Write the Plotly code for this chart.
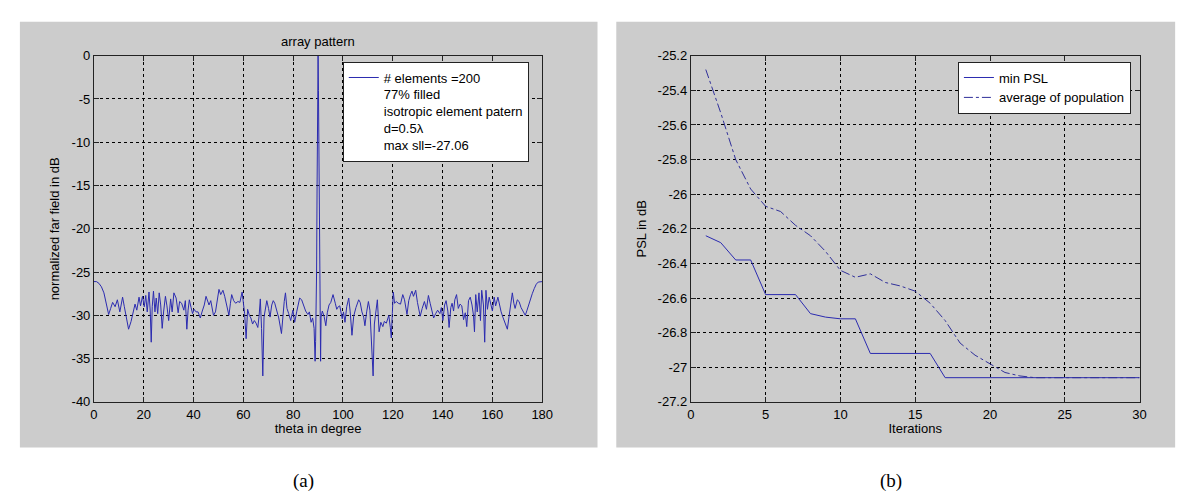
import plotly.graph_objects as go

W, H = 1189, 495

# ---------------- data: (a) array pattern ----------------
theta_deg = [
    0, 1, 2, 3, 4, 5, 5.9, 6.7, 7.5, 8.5, 9.4, 10.4, 11.5, 12.2, 13.2, 13.9, 14.9, 15.8,
    16.5, 17.2, 18.1, 18.7, 19.5, 20.2, 20.8, 21.4, 22.1, 22.6, 23.0, 23.4, 23.9, 24.5,
    25.0, 25.6, 26.2, 26.8, 27.4, 28.0, 28.7, 29.3, 30.0, 30.8, 31.4, 32.1, 33.0, 33.8,
    34.4, 35.2, 36.1, 36.7, 37.3, 37.8, 38.3, 39.0, 39.6, 40.2, 41.0, 41.8, 42.7, 43.5,
    44.3, 45.0, 45.6, 46.2, 46.9, 47.6, 48.0, 48.8, 49.5, 50.2, 50.9, 51.8, 52.5, 53.1,
    53.7, 54.2, 54.8, 55.3, 56.1, 56.9, 57.8, 58.6, 59.5, 60.0, 60.5, 61.1, 61.7, 62.4,
    63.0, 63.7, 64.4, 65.1, 65.8, 66.3, 66.8, 67.3, 67.8, 68.3, 68.9, 69.4, 70.1, 70.7,
    71.4, 72.0, 72.6, 73.4, 74.2, 75.3, 75.9, 76.4, 76.9, 77.5, 78.2, 79.0, 79.9, 80.6,
    81.4, 82.0, 82.6, 83.4, 84.2, 85.0, 85.9, 86.5, 87.2, 87.8, 88.4, 88.8, 89.0, 89.2,
    89.4, 89.6, 89.75, 89.85, 90.0, 90.15, 90.25, 90.4, 90.6, 90.8, 91.0, 91.2, 91.7,
    92.4, 93.1, 93.7, 94.4, 95.1, 96.0, 96.9, 97.5, 98.1, 98.7, 99.7, 100.2, 100.8,
    101.5, 102.3, 102.9, 103.6, 104.3, 105.2, 106.3, 106.9, 107.6, 108.3, 108.8, 109.5,
    110.2, 110.8, 111.6, 112.1, 112.6, 113.1, 113.8, 114.5, 115.2, 116.0, 116.6, 117.4,
    118.4, 119.0, 119.4, 119.8, 120.2, 120.7, 121.4, 122.2, 123.1, 124.0, 124.7, 125.7,
    126.4, 127.1, 127.7, 128.3, 129.2, 129.9, 130.5, 131.0, 131.8, 132.7, 133.5, 134.3,
    135.0, 135.7, 136.4, 137.2, 138.0, 138.9, 139.5, 140.1, 140.8, 141.4, 142.1, 142.6,
    143.3, 143.8, 144.4, 144.9, 145.6, 146.3, 147.0, 147.7, 148.4, 149.1, 149.7, 150.4,
    151.1, 151.8, 152.4, 152.8, 153.3, 153.9, 154.6, 155.2, 155.7, 156.4, 156.9, 157.4,
    158.0, 158.7, 159.3, 160.0, 160.7, 161.3, 162.2, 162.8, 163.5, 164.2, 165.1, 166.0,
    166.6, 167.3, 168.0, 168.6, 169.1, 170.0, 170.7, 171.5, 172.3, 173.2, 173.9, 174.5,
    175.2, 176.0, 176.8, 177.6, 178.4, 179.2, 180.0,
]
far_field_db = [
    -26.1, -26.1, -26.3, -26.7, -27.4, -28.6, -29.9, -29.2, -28.5, -29.0, -28.2, -29.6, -27.9, -29.0, -30.8, -31.6, -30.7, -29.5,
    -28.7, -29.4, -27.9, -28.9, -27.8, -29.0, -27.7, -29.6, -27.3, -29.5, -33.1, -29.0, -27.2, -29.6,
    -28.0, -29.8, -27.4, -28.8, -31.5, -29.5, -27.8, -28.9, -30.6, -28.1, -29.6, -27.4, -28.0, -29.7,
    -28.4, -28.6, -29.4, -28.3, -31.6, -29.4, -28.2, -29.1, -29.8, -29.3, -29.6, -29.6, -30.3, -29.5,
    -28.8, -27.8, -28.3, -28.8, -28.3, -29.3, -30.0, -29.6, -28.0, -27.0, -27.6, -27.1, -27.8, -28.7,
    -29.5, -30.0, -28.6, -27.6, -28.3, -28.6, -28.4, -28.5, -27.3, -28.5, -29.8, -32.7, -29.3, -30.0,
    -30.3, -31.0, -30.6, -30.9, -31.4, -30.1, -28.1, -31.5, -37.0, -30.2, -28.8, -28.3, -29.2, -30.2,
    -28.8, -28.3, -28.6, -29.4, -30.3, -32.1, -29.8, -28.4, -27.4, -29.2, -29.8, -30.6, -29.4, -30.8,
    -29.6, -28.6, -28.0, -28.2, -28.9, -29.5, -29.9, -29.6, -30.8, -30.3, -31.5, -35.3, -33.0, -29.5,
    -25.0, -15.0, -6.0, -6.2, 0.0, -4.0, -9.0, -16.0, -26.0, -30.5, -35.3, -30.2, -29.5,
    -30.1, -31.2, -29.7, -28.8, -28.5, -27.6, -28.6, -29.3, -29.0, -28.9, -30.4, -29.6, -30.8,
    -29.0, -28.0, -29.6, -32.3, -30.1, -29.1, -28.2, -28.5, -29.6, -30.2, -31.2, -29.6,
    -28.4, -29.4, -33.2, -37.0, -31.0, -29.9, -28.2, -31.9, -30.8, -31.3, -30.7, -30.9,
    -30.0, -31.4, -32.6, -29.8, -27.3, -28.6, -28.4, -28.6, -28.7, -27.6, -28.2, -29.9,
    -28.3, -27.6, -27.2, -27.8, -27.1, -28.5, -29.4, -30.1, -29.2, -28.4, -29.3, -27.7,
    -28.6, -29.3, -30.3, -29.8, -29.4, -29.8, -29.1, -30.6, -28.8, -28.3, -29.5, -31.4,
    -29.1, -28.6, -29.5, -28.2, -27.6, -29.2, -28.7, -28.9, -30.5, -29.7, -31.3, -28.3,
    -27.9, -28.8, -30.0, -31.9, -27.6, -29.6, -27.4, -30.6, -27.1, -28.8, -33.1, -27.1,
    -29.3, -27.9, -28.7, -29.5, -27.9, -28.9, -27.9, -28.9, -29.6, -30.2, -31.0, -31.6,
    -30.3, -28.7, -27.4, -28.6, -29.2, -28.2, -28.4, -29.1, -29.5, -30.0, -29.4, -28.8,
    -28.4, -27.5, -26.9, -26.4, -26.15, -26.1, -26.1,
]

# ---------------- data: (b) convergence ----------------
iterations = list(range(1, 31))
min_psl = [
    -26.24, -26.28, -26.38, -26.38, -26.58, -26.58, -26.58, -26.69, -26.71, -26.72,
    -26.72, -26.92, -26.92, -26.92, -26.92, -26.92, -27.06, -27.06, -27.06, -27.06,
    -27.06, -27.06, -27.06, -27.06, -27.06, -27.06, -27.06, -27.06, -27.06, -27.06,
]
avg_psl = [
    -25.28, -25.53, -25.80, -25.97, -26.07, -26.10, -26.18, -26.24, -26.33, -26.44,
    -26.48, -26.46, -26.51, -26.53, -26.56, -26.63, -26.73, -26.86, -26.93, -26.98,
    -27.03, -27.05, -27.06, -27.06, -27.06, -27.06, -27.06, -27.06, -27.06, -27.06,
]

# ---------------- ticks ----------------
a_x_ticks = [0, 20, 40, 60, 80, 100, 120, 140, 160, 180]
a_y_ticks = [0, -5, -10, -15, -20, -25, -30, -35, -40]
a_y_labels = ["0", "-5", "-10", "-15", "-20", "-25", "-30", "-35", "-40"]
b_x_ticks = [0, 5, 10, 15, 20, 25, 30]
b_y_ticks = [-25.2, -25.4, -25.6, -25.8, -26.0, -26.2, -26.4, -26.6, -26.8, -27.0, -27.2]
b_y_labels = ["-25.2", "-25.4", "-25.6", "-25.8", "-26", "-26.2", "-26.4", "-26.6",
              "-26.8", "-27", "-27.2"]

legend_a = "# elements =200<br>77% filled<br>isotropic element patern<br>d=0.5\u03bb<br>max sll=-27.06"

BLUE = "#2b2bb0"
GRAY = "#cccccc"
FONT = "Liberation Sans, Arial, sans-serif"
SERIF = "Liberation Serif, DejaVu Serif, serif"
FS = 13


def px(x):
    return x / W


def py(y):
    return 1 - y / H


fig = go.Figure()
fig.add_trace(go.Scatter(x=theta_deg, y=far_field_db, mode="lines",
                         line=dict(color=BLUE, width=1), name=legend_a,
                         xaxis="x", yaxis="y", legend="legend", showlegend=True))
fig.add_trace(go.Scatter(x=iterations, y=min_psl, mode="lines",
                         line=dict(color=BLUE, width=1), name="min PSL",
                         xaxis="x2", yaxis="y2", legend="legend2", showlegend=True))
fig.add_trace(go.Scatter(x=iterations, y=avg_psl, mode="lines",
                         line=dict(color="#30309a", width=1, dash="dashdot"),
                         name="average of population",
                         xaxis="x2", yaxis="y2", legend="legend2", showlegend=True))

axis_common = dict(
    showgrid=True, gridcolor="black", gridwidth=1, griddash="3px,3px",
    showline=True, linecolor="#222222", linewidth=1, mirror="ticks",
    ticks="inside", ticklen=5, tickcolor="#222222", tickwidth=1,
    zeroline=False, tickfont=dict(family=FONT, size=FS, color="black"),
)

fig.update_layout(
    width=W, height=H,
    margin=dict(l=0, r=0, t=0, b=0),
    paper_bgcolor="white", plot_bgcolor="white",
    showlegend=True,
    font=dict(family=FONT, size=FS, color="black"),
    xaxis=dict(domain=[px(83), px(537)], range=[0, 180], tickvals=a_x_ticks,
               title=dict(text="theta in degree", standoff=3,
                          font=dict(family=FONT, size=FS)),
               anchor="y", **axis_common),
    yaxis=dict(domain=[py(399), py(42)], range=[-40, 0], tickvals=a_y_ticks,
               ticktext=a_y_labels,
               title=dict(text="normalized far field in dB", standoff=8,
                          font=dict(family=FONT, size=FS)),
               anchor="x", **axis_common),
    xaxis2=dict(domain=[px(687.5), px(1142)], range=[0, 30], tickvals=b_x_ticks,
                title=dict(text="Iterations", standoff=3,
                           font=dict(family=FONT, size=FS)),
                anchor="y2", **axis_common),
    yaxis2=dict(domain=[py(399), py(42)], range=[-27.2, -25.2], tickvals=b_y_ticks,
                ticktext=b_y_labels,
                title=dict(text="PSL in dB", standoff=8,
                           font=dict(family=FONT, size=FS)),
                anchor="x2", **axis_common),
    legend=dict(x=px(335), xanchor="left", y=py(48), yanchor="top",
                bgcolor="white", bordercolor="#222222", borderwidth=1,
                font=dict(family=FONT, size=FS), valign="top", visible=True,
                itemclick=False, itemdoubleclick=False),
    legend2=dict(x=px(958), xanchor="left", y=py(48), yanchor="top",
                 bgcolor="white", bordercolor="#222222", borderwidth=1,
                 font=dict(family=FONT, size=FS), valign="top", visible=True,
                 itemclick=False, itemdoubleclick=False),
    shapes=[
        dict(type="rect", xref="paper", yref="paper", x0=px(8), x1=px(593),
             y0=py(446), y1=py(7), fillcolor=GRAY, line=dict(width=0), layer="below"),
        dict(type="rect", xref="paper", yref="paper", x0=px(612), x1=px(1178),
             y0=py(446), y1=py(7), fillcolor=GRAY, line=dict(width=0), layer="below"),
    ],
    annotations=[
        dict(text="array pattern", x=px(310), y=py(27), xref="paper", yref="paper",
             showarrow=False, font=dict(family=FONT, size=FS), xanchor="center",
             yanchor="middle"),
        dict(text="(a)", x=px(295), y=py(481), xref="paper", yref="paper",
             showarrow=False, font=dict(family=SERIF, size=19), xanchor="center",
             yanchor="middle"),
        dict(text="(b)", x=px(890), y=py(481), xref="paper", yref="paper",
             showarrow=False, font=dict(family=SERIF, size=19), xanchor="center",
             yanchor="middle"),
    ],
)

fig.write_html("out.html")
